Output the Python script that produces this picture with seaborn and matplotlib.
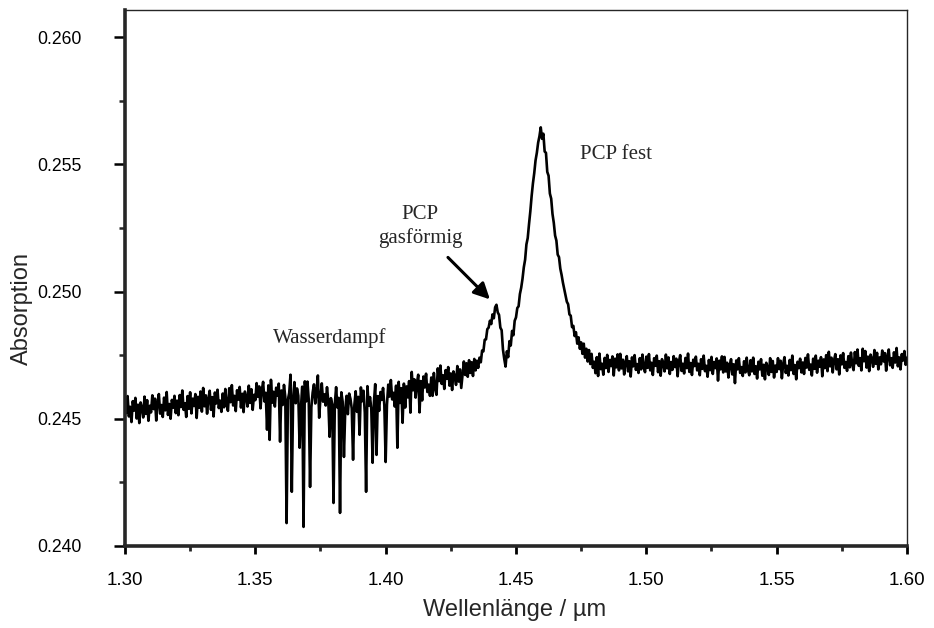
import numpy as np
import pandas as pd
import matplotlib
matplotlib.use("Agg")
import matplotlib.pyplot as plt
import seaborn as sns
from matplotlib.ticker import MultipleLocator, FormatStrFormatter

# ---- data: one sample every 0.0005 µm, 1.3000 ... 1.6000 ----
start_um = 1.300
step_um = 0.0005

absorption = [
    # 1.300
    0.24577, 0.24522, 0.24589, 0.24509, 0.24547, 0.24487, 0.24569, 0.24532, 0.24582, 0.24501,
    0.24555, 0.24483, 0.24564, 0.24543, 0.24505, 0.24587, 0.24519, 0.24573, 0.24492, 0.24551,
    # 1.310
    0.24525, 0.24592, 0.24538, 0.24579, 0.24493, 0.24565, 0.24597, 0.24520, 0.24554, 0.24507,
    0.24583, 0.24533, 0.24605, 0.24515, 0.24558, 0.24500, 0.24574, 0.24543, 0.24590, 0.24522,
    # 1.320
    0.24571, 0.24514, 0.24593, 0.24546, 0.24611, 0.24535, 0.24561, 0.24507, 0.24589, 0.24539,
    0.24604, 0.24521, 0.24579, 0.24550, 0.24597, 0.24503, 0.24586, 0.24543, 0.24607, 0.24528,
    # 1.330
    0.24621, 0.24549, 0.24592, 0.24520, 0.24578, 0.24610, 0.24535, 0.24585, 0.24509, 0.24603,
    0.24560, 0.24614, 0.24542, 0.24571, 0.24527, 0.24599, 0.24545, 0.24617, 0.24556, 0.24531,
    # 1.340
    0.24620, 0.24565, 0.24632, 0.24552, 0.24590, 0.24530, 0.24612, 0.24575, 0.24625, 0.24544,
    0.24598, 0.24526, 0.24607, 0.24586, 0.24548, 0.24630, 0.24562, 0.24616, 0.24535, 0.24594,
    # 1.350
    0.24573, 0.24640, 0.24586, 0.24627, 0.24541, 0.24613, 0.24645, 0.24568, 0.24602, 0.24457,
    0.24631, 0.24417, 0.24653, 0.24563, 0.24606, 0.24548, 0.24622, 0.24591, 0.24638, 0.24410,
    # 1.360
    0.24611, 0.24554, 0.24633, 0.24586, 0.24090, 0.24575, 0.24601, 0.24673, 0.24213, 0.24579,
    0.24644, 0.24561, 0.24619, 0.24590, 0.24386, 0.24543, 0.24626, 0.24075, 0.24647, 0.24568,
    # 1.370
    0.24646, 0.24574, 0.24232, 0.24545, 0.24603, 0.24635, 0.24560, 0.24610, 0.24670, 0.24504,
    0.24585, 0.24639, 0.24567, 0.24596, 0.24552, 0.24624, 0.24570, 0.24429, 0.24581, 0.24556,
    # 1.380
    0.24169, 0.24557, 0.24624, 0.24544, 0.24582, 0.24130, 0.24604, 0.24567, 0.24350, 0.24536,
    0.24590, 0.24518, 0.24599, 0.24578, 0.24540, 0.24339, 0.24554, 0.24608, 0.24527, 0.24586,
    # 1.390
    0.24437, 0.24623, 0.24569, 0.24610, 0.24524, 0.24213, 0.24628, 0.24551, 0.24585, 0.24538,
    0.24327, 0.24564, 0.24636, 0.24358, 0.24589, 0.24531, 0.24605, 0.24574, 0.24621, 0.24553,
    # 1.400
    0.24330, 0.24555, 0.24634, 0.24587, 0.24652, 0.24576, 0.24602, 0.24548, 0.24630, 0.24386,
    0.24645, 0.24562, 0.24620, 0.24484, 0.24638, 0.24544, 0.24627, 0.24584, 0.24648, 0.24524,
    # 1.410
    0.24684, 0.24612, 0.24655, 0.24583, 0.24641, 0.24673, 0.24525, 0.24648, 0.24572, 0.24666,
    0.24623, 0.24677, 0.24605, 0.24634, 0.24590, 0.24662, 0.24590, 0.24680, 0.24619, 0.24594,
    # 1.420
    0.24698, 0.24648, 0.24709, 0.24637, 0.24671, 0.24617, 0.24691, 0.24657, 0.24703, 0.24630,
    0.24678, 0.24613, 0.24686, 0.24667, 0.24633, 0.24707, 0.24646, 0.24694, 0.24621, 0.24675,
    # 1.430
    0.24725, 0.24672, 0.24718, 0.24665, 0.24730, 0.24680, 0.24722, 0.24668, 0.24735, 0.24690,
    0.24728, 0.24700, 0.24740, 0.24722, 0.24768, 0.24765, 0.24810, 0.24812, 0.24852, 0.24858,
    # 1.440
    0.24885, 0.24872, 0.24910, 0.24895, 0.24938, 0.24948, 0.24918, 0.24908, 0.24858, 0.24848,
    0.24772, 0.24735, 0.24705, 0.24765, 0.24742, 0.24805, 0.24788, 0.24845, 0.24828, 0.24885,
    # 1.450
    0.24898, 0.24935, 0.24942, 0.24990, 0.25015, 0.25050, 0.25095, 0.25125, 0.25185, 0.25210,
    0.25265, 0.25315, 0.25375, 0.25425, 0.25465, 0.25515, 0.25545, 0.25585, 0.25610, 0.25645,
    # 1.460
    0.25600, 0.25620, 0.25550, 0.25545, 0.25470, 0.25455, 0.25385, 0.25365, 0.25305, 0.25270,
    0.25220, 0.25200, 0.25145, 0.25135, 0.25090, 0.25065, 0.25035, 0.25010, 0.24985, 0.24960,
    # 1.470
    0.24950, 0.24910, 0.24905, 0.24860, 0.24865, 0.24825, 0.24840, 0.24795, 0.24820, 0.24775,
    0.24800, 0.24755, 0.24795, 0.24740, 0.24775, 0.24725, 0.24770, 0.24715, 0.24755, 0.24700,
    # 1.480
    0.24724, 0.24679, 0.24742, 0.24668, 0.24756, 0.24695, 0.24716, 0.24673, 0.24739, 0.24699,
    0.24751, 0.24684, 0.24731, 0.24707, 0.24745, 0.24670, 0.24736, 0.24702, 0.24753, 0.24690,
    # 1.490
    0.24755, 0.24698, 0.24732, 0.24674, 0.24721, 0.24746, 0.24686, 0.24726, 0.24666, 0.24741,
    0.24706, 0.24750, 0.24692, 0.24715, 0.24680, 0.24738, 0.24694, 0.24752, 0.24703, 0.24683,
    # 1.500
    0.24744, 0.24700, 0.24754, 0.24690, 0.24720, 0.24672, 0.24738, 0.24708, 0.24748, 0.24683,
    0.24726, 0.24669, 0.24734, 0.24717, 0.24686, 0.24752, 0.24698, 0.24741, 0.24676, 0.24723,
    # 1.510
    0.24692, 0.24746, 0.24703, 0.24736, 0.24667, 0.24724, 0.24750, 0.24688, 0.24716, 0.24678,
    0.24739, 0.24699, 0.24756, 0.24684, 0.24719, 0.24672, 0.24732, 0.24707, 0.24744, 0.24690,
    # 1.520
    0.24716, 0.24671, 0.24734, 0.24696, 0.24748, 0.24687, 0.24708, 0.24665, 0.24731, 0.24691,
    0.24743, 0.24676, 0.24723, 0.24699, 0.24737, 0.24650, 0.24728, 0.24694, 0.24745, 0.24682,
    # 1.530
    0.24743, 0.24686, 0.24720, 0.24662, 0.24709, 0.24734, 0.24674, 0.24714, 0.24640, 0.24729,
    0.24694, 0.24738, 0.24680, 0.24703, 0.24668, 0.24726, 0.24682, 0.24740, 0.24691, 0.24671,
    # 1.540
    0.24730, 0.24686, 0.24740, 0.24676, 0.24706, 0.24658, 0.24724, 0.24694, 0.24734, 0.24669,
    0.24712, 0.24655, 0.24720, 0.24703, 0.24672, 0.24738, 0.24684, 0.24727, 0.24662, 0.24709,
    # 1.550
    0.24684, 0.24738, 0.24695, 0.24728, 0.24659, 0.24716, 0.24742, 0.24680, 0.24708, 0.24670,
    0.24731, 0.24691, 0.24748, 0.24676, 0.24711, 0.24655, 0.24724, 0.24699, 0.24736, 0.24682,
    # 1.560
    0.24721, 0.24676, 0.24739, 0.24701, 0.24753, 0.24692, 0.24713, 0.24670, 0.24736, 0.24696,
    0.24748, 0.24681, 0.24728, 0.24704, 0.24742, 0.24667, 0.24733, 0.24699, 0.24750, 0.24687,
    # 1.570
    0.24763, 0.24706, 0.24740, 0.24682, 0.24729, 0.24754, 0.24694, 0.24734, 0.24674, 0.24749,
    0.24714, 0.24758, 0.24700, 0.24723, 0.24688, 0.24746, 0.24702, 0.24760, 0.24711, 0.24691,
    # 1.580
    0.24762, 0.24718, 0.24772, 0.24708, 0.24738, 0.24690, 0.24775, 0.24726, 0.24766, 0.24701,
    0.24744, 0.24687, 0.24752, 0.24735, 0.24704, 0.24770, 0.24716, 0.24759, 0.24694, 0.24741,
    # 1.590
    0.24714, 0.24768, 0.24725, 0.24758, 0.24689, 0.24746, 0.24772, 0.24710, 0.24738, 0.24700,
    0.24761, 0.24721, 0.24778, 0.24706, 0.24741, 0.24694, 0.24754, 0.24729, 0.24766, 0.24712,
    # 1.600
    0.24740,
]

wavelength = np.round(start_um + step_um * np.arange(len(absorption)), 4)

x_ticks = [1.30, 1.35, 1.40, 1.45, 1.50, 1.55, 1.60]
y_ticks = [0.240, 0.245, 0.250, 0.255, 0.260]

label_water = "Wasserdampf"
label_gas = "PCP\ngasförmig"
label_solid = "PCP fest"

df = pd.DataFrame({"Wellenlänge": wavelength, "Absorption": absorption})

# ---- style ----
sns.set_style("ticks")
plt.rcParams["font.family"] = ["Liberation Sans", "DejaVu Sans"]

fig = plt.figure(figsize=(9.34, 6.28), dpi=100)
ax = fig.add_axes([0.1338, 0.1306, 0.9711 - 0.1338, 0.984 - 0.1306])

sns.lineplot(data=df, x="Wellenlänge", y="Absorption", ax=ax,
             color="black", linewidth=1.9, estimator=None, sort=False)

ax.set_xlim(1.30, 1.60)
ax.set_ylim(0.240, 0.26106)
ax.set_xticks(x_ticks)
ax.set_yticks(y_ticks)
ax.xaxis.set_minor_locator(MultipleLocator(0.025))
ax.yaxis.set_minor_locator(MultipleLocator(0.0025))
ax.xaxis.set_major_formatter(FormatStrFormatter("%.2f"))
ax.yaxis.set_major_formatter(FormatStrFormatter("%.3f"))

for side in ["left", "bottom"]:
    ax.spines[side].set_linewidth(2.6)
for side in ["top", "right"]:
    ax.spines[side].set_visible(True)
    ax.spines[side].set_linewidth(1.0)

ax.tick_params(axis="x", which="major", direction="out", length=6, width=2,
               labelsize=13.5, pad=13, colors="black")
ax.tick_params(axis="x", which="minor", direction="out", length=3.5, width=2)
ax.tick_params(axis="y", which="major", direction="out", length=8, width=1.8,
               labelsize=12.7, pad=23, colors="black")
ax.tick_params(axis="y", which="minor", direction="out", length=4, width=1.8)

ax.set_xlabel("Wellenlänge / µm", fontsize=17)
ax.xaxis.set_label_coords(0.4987, -0.1195)
ax.xaxis.label.set_va("center")
ax.set_ylabel("Absorption", fontsize=17)
ax.yaxis.set_label_coords(-0.1317, 0.444)
ax.yaxis.label.set_va("center")

serif = ["Liberation Serif", "DejaVu Serif"]
ax.text(1.3787, 0.24819, label_water, family=serif, fontsize=15,
        ha="center", va="center")
ax.text(1.4132, 0.25256, label_gas, family=serif, fontsize=15,
        ha="center", va="center", linespacing=1.25)
ax.text(1.4746, 0.25539, label_solid, family=serif, fontsize=15,
        ha="left", va="center")
ax.annotate("", xy=(1.4400, 0.24969), xytext=(1.4239, 0.25134),
            arrowprops=dict(arrowstyle="-|>", color="black", lw=2.2,
                            mutation_scale=24, shrinkA=0, shrinkB=0))

fig.savefig("out.png", dpi=100)
